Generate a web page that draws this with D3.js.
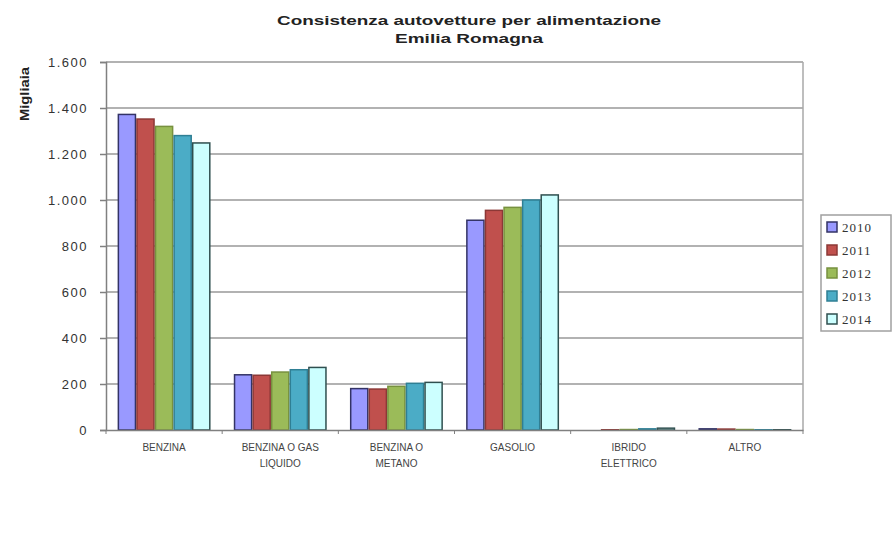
<!DOCTYPE html>
<html>
<head>
<meta charset="utf-8">
<script src="https://cdn.jsdelivr.net/npm/d3@7"></script>
<style>
    body { margin: 0; background: #fff; }
    svg text { font-family: Arial, "Liberation Sans", sans-serif; }
</style>
</head>
<body>
<svg id="chart"></svg>
<script>
// Chart data (thousands of cars)
let categories = [
    ['BENZINA'],
    ['BENZINA O GAS', 'LIQUIDO'],
    ['BENZINA  O', 'METANO'],
    ['GASOLIO'],
    ['IBRIDO', 'ELETTRICO'],
    ['ALTRO']
];
let years = ['2010', '2011', '2012', '2013', '2014'];
let v2010 = [1372, 240, 180, 912, 0, 5];
let v2011 = [1352, 238, 178, 955, 1, 4];
let v2012 = [1320, 252, 190, 968, 2, 2];
let v2013 = [1280, 262, 203, 1000, 5, 1];
let v2014 = [1248, 272, 207, 1022, 8, 1];
let yTicks = [0, 200, 400, 600, 800, 1000, 1200, 1400, 1600];

let series = [v2010, v2011, v2012, v2013, v2014];

let c = {
    svg: { width: 895, height: 534 },
    plot: { left: 106, right: 803, top: 62, bottom: 430 },
    fills: ['#9999ff', '#c0504d', '#9bbb59', '#4bacc6', '#ccffff'],
    strokes: ['#333366', '#8c3836', '#77913f', '#2f7f94', '#2f4f4f']
};

let svg = d3.select('#chart')
    .attr('width', c.svg.width)
    .attr('height', c.svg.height);

let x = d3.scaleBand()
    .domain(d3.range(categories.length))
    .range([c.plot.left, c.plot.right])
    .paddingInner(0.2)
    .paddingOuter(0.1);

let xs = d3.scaleBand()
    .domain(years)
    .range([0, x.bandwidth()]);

let y = d3.scaleLinear()
    .domain([0, 1600])
    .range([c.plot.bottom, c.plot.top]);

let fmt = d3.formatLocale({ decimal: ',', thousands: '.', grouping: [3], currency: ['', '€'] }).format(',');

// Gridlines
svg.append('g')
    .selectAll('line')
    .data(yTicks.filter(d => d > 0))
    .join('line')
    .attr('x1', c.plot.left)
    .attr('x2', c.plot.right)
    .attr('y1', d => y(d))
    .attr('y2', d => y(d))
    .attr('stroke', '#999')
    .attr('stroke-width', 1.5);

// right border of plot area
svg.append('line')
    .attr('x1', c.plot.right).attr('x2', c.plot.right)
    .attr('y1', c.plot.top).attr('y2', c.plot.bottom)
    .attr('stroke', '#a8a8a8')
    .attr('stroke-width', 1.5);

// Bars
let groups = svg.append('g')
    .selectAll('g')
    .data(series)
    .join('g');

groups.selectAll('rect')
    .data((s, i) => s.map((v, k) => ({ v: v, k: k, i: i })))
    .join('rect')
    .attr('x', d => x(d.k) + xs(years[d.i]) + 0.75)
    .attr('y', d => y(d.v))
    .attr('width', xs.bandwidth() - 1.5)
    .attr('height', d => c.plot.bottom - y(d.v))
    .attr('fill', d => c.fills[d.i])
    .attr('stroke', d => c.strokes[d.i])
    .attr('stroke-width', 1.5);

// Y axis
let yAxis = d3.axisLeft(y)
    .tickValues(yTicks)
    .tickSize(6)
    .tickPadding(12)
    .tickFormat(fmt);

let yg = svg.append('g')
    .attr('transform', 'translate(' + c.plot.left + ',0)')
    .call(yAxis);
yg.select('.domain').attr('stroke', '#808080').attr('stroke-width', 1.5);
yg.selectAll('.tick line').attr('stroke', '#808080').attr('stroke-width', 1.5);
yg.selectAll('.tick text')
    .attr('font-size', 13)
    .attr('letter-spacing', 1.5)
    .attr('fill', '#333');

// X axis
let xAxis = d3.axisBottom(x)
    .tickSize(0)
    .tickFormat('');
let xg = svg.append('g')
    .attr('transform', 'translate(0,' + c.plot.bottom + ')')
    .call(xAxis);
xg.select('.domain').attr('stroke', '#808080').attr('stroke-width', 1.5);

let boundaries = d3.range(categories.length + 1).map(i => c.plot.left + i * (c.plot.right - c.plot.left) / categories.length);
xg.selectAll('line.sep')
    .data(boundaries)
    .join('line')
    .attr('class', 'sep')
    .attr('x1', d => d).attr('x2', d => d)
    .attr('y1', 0).attr('y2', 4)
    .attr('stroke', '#808080');

xg.selectAll('text.cat')
    .data(categories)
    .join('text')
    .attr('class', 'cat')
    .attr('text-anchor', 'middle')
    .attr('font-size', 10)
    .attr('fill', '#444')
    .attr('transform', (d, i) => 'translate(' + (x(i) + x.bandwidth() / 2) + ',0)')
    .selectAll('tspan')
    .data(d => d)
    .join('tspan')
    .attr('x', 0)
    .attr('y', (d, j) => 21 + j * 16)
    .text(d => d);

// Y label
svg.append('text')
    .attr('transform', 'translate(29,94) rotate(-90)')
    .attr('text-anchor', 'middle')
    .attr('font-size', 13)
    .attr('font-weight', 'bold')
    .attr('fill', '#222')
    .attr('textLength', 54)
    .attr('lengthAdjust', 'spacingAndGlyphs')
    .text('Migliaia');

// Title
let title = svg.append('text')
    .attr('text-anchor', 'middle')
    .attr('font-size', 13)
    .attr('font-weight', 'bold')
    .attr('fill', '#222');
title.append('tspan').attr('x', 469).attr('y', 25)
    .attr('textLength', 384).attr('lengthAdjust', 'spacingAndGlyphs')
    .text('Consistenza autovetture per alimentazione');
title.append('tspan').attr('x', 469).attr('y', 43)
    .attr('textLength', 148).attr('lengthAdjust', 'spacingAndGlyphs')
    .text('Emilia Romagna');

// Legend
let legend = svg.append('g').attr('transform', 'translate(821,215)');
legend.append('rect')
    .attr('width', 70)
    .attr('height', 116)
    .attr('fill', '#fff')
    .attr('stroke', '#a0a0a0')
    .attr('stroke-width', 1.5);

let items = legend.selectAll('g.item')
    .data(years)
    .join('g')
    .attr('class', 'item')
    .attr('transform', (d, i) => 'translate(6,' + (12 + i * 23) + ')');
items.append('rect')
    .attr('x', 0).attr('y', -5)
    .attr('width', 10).attr('height', 10)
    .attr('fill', (d, i) => c.fills[i])
    .attr('stroke', (d, i) => c.strokes[i])
    .attr('stroke-width', 1.5);
items.append('text')
    .attr('x', 15).attr('y', 5)
    .attr('font-size', 13)
    .style('font-family', '"Liberation Serif", "DejaVu Serif", serif')
    .attr('fill', '#333')
    .attr('letter-spacing', 1)
    .text(d => d);
</script>
</body>
</html>
